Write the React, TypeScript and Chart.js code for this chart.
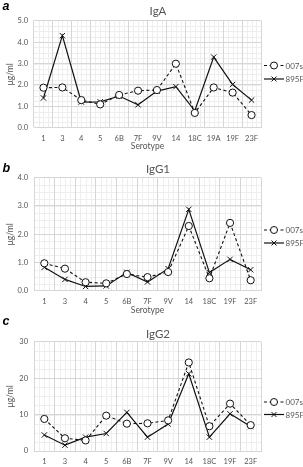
import React, { useEffect, useRef } from "react";
import { Chart, registerables } from "chart.js";

Chart.register(...registerables);

// Serotype categories
const serotypesIgA = ["1", "3", "4", "5", "6B", "7F", "9V", "14", "18C", "19A", "19F", "23F"];
const serotypesIgG = ["1", "3", "4", "5", "6B", "7F", "9V", "14", "18C", "19F", "23F"];

// Antibody concentrations (µg/ml) per serotype
const igA_007s = [1.87, 1.88, 1.29, 1.09, 1.53, 1.73, 1.76, 2.99, 0.69, 1.88, 1.64, 0.59];
const igA_895F = [1.39, 4.3, 1.2, 1.21, 1.48, 1.07, 1.71, 1.92, 0.79, 3.3, 2.02, 1.29];
const igG1_007s = [0.97, 0.78, 0.3, 0.26, 0.59, 0.48, 0.66, 2.29, 0.44, 2.4, 0.37];
const igG1_895F = [0.83, 0.4, 0.15, 0.17, 0.65, 0.31, 0.78, 2.88, 0.64, 1.11, 0.74];
const igG2_007s = [8.8, 3.5, 2.9, 9.7, 7.5, 7.6, 8.4, 24.3, 6.8, 13.0, 7.1];
const igG2_895F = [4.4, 1.6, 3.8, 4.8, 10.6, 3.8, 7.4, 21.2, 3.8, 10.2, 6.7];

const seriesNames = ["007s", "895F"];

const INK = "#111111";
const TEXT = "#555555";
const MAJOR = "#d6d6d6";
const MINOR = "#eeeeee";
const FONT = "Lato, 'Noto Sans', sans-serif";
const WIDTH = 303;
const PLOT_LEFT = 34;
const PLOT_RIGHT = 261;

type Panel = {
  letter: string;
  title: string;
  labels: string[];
  a: number[];
  b: number[];
  yMax: number;
  yStep: number;
  decimals: number;
  height: number;
  plotTop: number;
  plotBottom: number;
  titleBase: number;
  letterBase: number;
  legendY: [number, number];
  xTitle: boolean;
  xTitlePad: number;
};

const panels: Panel[] = [
  {
    letter: "a", title: "IgA", labels: serotypesIgA, a: igA_007s, b: igA_895F,
    yMax: 5, yStep: 1, decimals: 1,
    height: 155, plotTop: 20.7, plotBottom: 127.7, titleBase: 14.5, letterBase: 9.5,
    legendY: [65.5, 79], xTitle: true, xTitlePad: 4,
  },
  {
    letter: "b", title: "IgG1", labels: serotypesIgG, a: igG1_007s, b: igG1_895F,
    yMax: 4, yStep: 1, decimals: 1,
    height: 163, plotTop: 22.7, plotBottom: 135.7, titleBase: 18, letterBase: 16.5,
    legendY: [75, 88], xTitle: true, xTitlePad: 3,
  },
  {
    letter: "c", title: "IgG2", labels: serotypesIgG, a: igG2_007s, b: igG2_895F,
    yMax: 30, yStep: 10, decimals: 0,
    height: 149, plotTop: 23.7, plotBottom: 133, titleBase: 19.5, letterBase: 6.5,
    legendY: [84, 96.5], xTitle: false, xTitlePad: 0,
  },
];

function drawMarker(ctx: CanvasRenderingContext2D, style: string, x: number, y: number, r: number) {
  ctx.save();
  ctx.strokeStyle = INK;
  ctx.lineWidth = 1;
  ctx.setLineDash([]);
  if (style === "circle") {
    ctx.fillStyle = "#ffffff";
    ctx.beginPath();
    ctx.arc(x, y, r, 0, Math.PI * 2);
    ctx.fill();
    ctx.stroke();
  } else {
    const d = r * Math.SQRT1_2;
    ctx.beginPath();
    ctx.moveTo(x - d, y - d);
    ctx.lineTo(x + d, y + d);
    ctx.moveTo(x + d, y - d);
    ctx.lineTo(x - d, y + d);
    ctx.stroke();
  }
  ctx.restore();
}

function PanelChart({ p }: { p: Panel }) {
  const ref = useRef<HTMLCanvasElement | null>(null);

  useEffect(() => {
    const canvas = ref.current;
    if (!canvas) return;

    // light minor gridlines underneath the major grid
    const minorGrid = {
      id: "minorGrid",
      beforeDraw(chart: any) {
        const { ctx, chartArea } = chart;
        const xs = chart.scales.x;
        const ys = chart.scales.y;
        ctx.save();
        ctx.strokeStyle = MINOR;
        ctx.lineWidth = 1;
        const n = p.labels.length;
        for (let i = 0; i < n; i++) {
          for (const f of [-0.25, 0, 0.25]) {
            const x = Math.round(xs.getPixelForValue(i + f)) + 0.5;
            ctx.beginPath();
            ctx.moveTo(x, chartArea.top);
            ctx.lineTo(x, chartArea.bottom);
            ctx.stroke();
          }
        }
        const sub = p.yStep / 4;
        for (let v = sub; v < p.yMax; v += sub) {
          const y = Math.round(ys.getPixelForValue(v)) + 0.5;
          ctx.beginPath();
          ctx.moveTo(chartArea.left, y);
          ctx.lineTo(chartArea.right, y);
          ctx.stroke();
        }
        ctx.restore();
      },
    };

    // panel letter, title and series key
    const decorations = {
      id: "decorations",
      afterDraw(chart: any) {
        const { ctx } = chart;
        ctx.save();
        ctx.fillStyle = "#000";
        ctx.font = "italic bold 12.5px 'Liberation Sans', Arial, sans-serif";
        ctx.textAlign = "left";
        ctx.textBaseline = "alphabetic";
        ctx.fillText(p.letter, 2.5, p.letterBase);

        ctx.fillStyle = TEXT;
        ctx.font = `11.5px ${FONT}`;
        ctx.textAlign = "center";
        ctx.fillText(p.title, 158, p.titleBase);

        chart.data.datasets.forEach((ds: any, i: number) => {
          const y = p.legendY[i];
          ctx.save();
          ctx.strokeStyle = INK;
          ctx.lineWidth = ds.borderWidth;
          ctx.setLineDash(ds.borderDash || []);
          ctx.beginPath();
          ctx.moveTo(264, y);
          ctx.lineTo(284, y);
          ctx.stroke();
          ctx.restore();
          drawMarker(ctx, ds.pointStyle, 274, y, 3.5);
          ctx.fillStyle = TEXT;
          ctx.font = `8px ${FONT}`;
          ctx.textAlign = "left";
          ctx.textBaseline = "middle";
          ctx.fillText(ds.label, 285.5, y + 0.5);
        });
        ctx.restore();
      },
    };

    const tickFont = { family: FONT, size: 7.5 };
    const titleFont = { family: FONT, size: 8.5 };

    const chart = new Chart(canvas, {
      type: "line",
      data: {
        labels: p.labels,
        datasets: [
          {
            label: seriesNames[0],
            data: p.a,
            borderColor: INK,
            borderWidth: 1.1,
            borderDash: [3, 2.5],
            pointStyle: "circle",
            pointRadius: 3.6,
            pointBorderWidth: 1,
            pointBorderColor: INK,
            pointBackgroundColor: "#ffffff",
            tension: 0,
            fill: false,
          },
          {
            label: seriesNames[1],
            data: p.b,
            borderColor: INK,
            borderWidth: 1.2,
            pointStyle: "crossRot",
            pointRadius: 3.8,
            pointBorderWidth: 1,
            pointBorderColor: INK,
            tension: 0,
            fill: false,
          },
        ],
      },
      options: {
        responsive: false,
        animation: false,
        devicePixelRatio: 1,
        layout: { padding: { top: p.plotTop, right: WIDTH - PLOT_RIGHT, left: 0, bottom: 0 } },
        plugins: {
          legend: { display: false },
          tooltip: { enabled: false },
          title: { display: false },
        },
        scales: {
          x: {
            type: "category",
            offset: true,
            grid: { offset: true, color: MAJOR, drawTicks: false },
            border: { color: MAJOR },
            ticks: { font: tickFont, color: TEXT, padding: 6.5, maxRotation: 0, autoSkip: false },
            title: {
              display: p.xTitle,
              text: "Serotype",
              font: titleFont,
              color: TEXT,
              padding: { top: 0, bottom: p.xTitlePad },
            },
            afterFit: (s: any) => {
              s.height = p.height - p.plotBottom;
            },
          },
          y: {
            min: 0,
            max: p.yMax,
            grid: { color: MAJOR, drawTicks: false },
            border: { display: false },
            ticks: {
              stepSize: p.yStep,
              font: tickFont,
              color: TEXT,
              padding: 6,
              callback: (v: any) => Number(v).toFixed(p.decimals),
            },
            title: {
              display: true,
              text: "μg/ml",
              font: titleFont,
              color: TEXT,
              padding: { top: 5, bottom: 0 },
            },
            afterFit: (s: any) => {
              s.width = PLOT_LEFT;
            },
          },
        },
      } as any,
      plugins: [minorGrid, decorations],
    });

    return () => chart.destroy();
  }, [p]);

  return (
    <canvas
      ref={ref}
      width={WIDTH}
      height={p.height}
      style={{ display: "block", width: WIDTH, height: p.height }}
    />
  );
}

export default function App() {
  useEffect(() => {
    document.body.style.margin = "0";
    document.body.style.overflow = "hidden";
    document.body.style.background = "#ffffff";
  }, []);

  return (
    <div style={{ position: "absolute", left: 0, top: 0, width: WIDTH, background: "#fff" }}>
      {panels.map((p) => (
        <PanelChart key={p.letter} p={p} />
      ))}
    </div>
  );
}
